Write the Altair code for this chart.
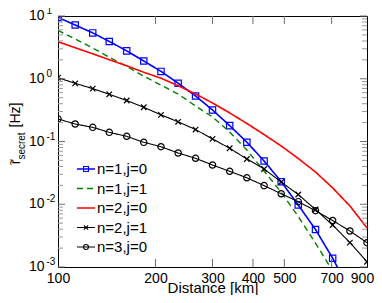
import altair as alt
import pandas as pd

# ---------------- data ----------------
distance_km = [100, 113, 128, 144, 163, 184, 208, 235, 266, 300, 339, 383,
               433, 489, 552, 624, 705, 797, 900]
series_labels = ["n=1,j=0", "n=1,j=1", "n=2,j=0", "n=2,j=1", "n=3,j=0"]
n1_j0 = [9.5, 7.19, 5.38, 3.93, 2.78, 1.92, 1.31, 0.849, 0.531, 0.318, 0.179,
         0.0975, 0.0489, 0.0229, 0.00973, 0.00396, 0.00138, 0.00042, 0.0001]
n1_j1 = [5.9, 4.31, 3.09, 2.20, 1.57, 1.10, 0.789, 0.571, 0.368, 0.246, 0.142,
         0.0732, 0.0339, 0.0155, 0.00638, 0.00241, 0.00086, 0.00026, 0.00007]
n2_j0 = [3.89, 3.12, 2.50, 2.01, 1.61, 1.27, 1.02, 0.774, 0.571, 0.411, 0.285,
         0.194, 0.129, 0.0848, 0.0536, 0.0327, 0.0182, 0.0094, 0.0042]
n2_j1 = [1.04, 0.845, 0.696, 0.565, 0.450, 0.351, 0.266, 0.206, 0.155, 0.110,
         0.078, 0.0526, 0.0365, 0.0226, 0.0143, 0.00824, 0.00467, 0.00245, 0.00121]
n3_j0 = [0.229, 0.190, 0.168, 0.140, 0.121, 0.097, 0.0826, 0.0656, 0.054, 0.0422,
         0.0335, 0.0264, 0.0198, 0.0147, 0.011, 0.00789, 0.00551, 0.00375, 0.00244]
series_values = [n1_j0, n1_j1, n2_j0, n2_j1, n3_j0]

x_tick_values = [100, 200, 300, 400, 500, 700, 900]
x_inner_ticks = [200, 300, 400, 500, 700]
y_decades = [0.001, 0.01, 0.1, 1, 10]
y_exponents = ["-3", "-2", "-1", "0", "1"]
y_minor = [m * 10.0 ** e for e in (-3, -2, -1, 0) for m in range(2, 10)]

# ---------------- styling ----------------
W, H = 309, 251
FONT = "Liberation Sans"
CROSS = "M-1,-1L1,1M-1,1L1,-1"
styles = [
    dict(color="#0000ff", dash=[1, 0], width=1.6, shape="square", msize=40),
    dict(color="#008000", dash=[6, 4], width=1.4, shape=None, msize=0),
    dict(color="#ff0000", dash=[1, 0], width=1.6, shape=None, msize=0),
    dict(color="#000000", dash=[1, 0], width=1.1, shape=CROSS, msize=30),
    dict(color="#000000", dash=[1, 0], width=1.1, shape="circle", msize=40),
]

xscale = alt.Scale(type="log", domain=[100, 900], nice=False)
yscale = alt.Scale(type="log", domain=[0.001, 10], nice=False)
xaxis = alt.Axis(values=x_tick_values, ticks=False, tickSize=0, domain=False,
                 grid=False, format="d", labelFont=FONT, labelFontSize=14,
                 labelColor="black", labelPadding=15, labelBaseline="alphabetic",
                 labelFlush=False, labelOverlap=False,
                 labelOffset={"condition": {"test": "datum.value == 900", "value": -5},
                              "value": 0},
                 title="Distance [km]", titleFont=FONT, titleFontSize=15,
                 titleFontWeight="normal", titleColor="black",
                 titleBaseline="alphabetic", titleY=25.5)
X = alt.X("d:Q", scale=xscale, axis=xaxis)
Y = alt.Y("v:Q", scale=yscale, axis=None)

one = pd.DataFrame({"k": [0]})
layers = []

# series lines and markers
for lab, vals, st in zip(series_labels, series_values, styles):
    df = pd.DataFrame({"d": distance_km, "v": vals})
    layers.append(alt.Chart(df).mark_line(
        color=st["color"], strokeDash=st["dash"], strokeWidth=st["width"], clip=True
    ).encode(x=X, y=Y))
    if st["shape"]:
        layers.append(alt.Chart(df).mark_point(
            shape=st["shape"], size=st["msize"], filled=False, color=st["color"],
            strokeWidth=1.2, opacity=1, clip=True
        ).encode(x=X, y=Y))

# inward ticks (MATLAB style)
dmaj = pd.DataFrame({"v": y_decades})
dmin = pd.DataFrame({"v": y_minor})
dx = pd.DataFrame({"d": x_inner_ticks})
tick_col = "#6e6e6e"
layers += [
    alt.Chart(dmaj).mark_rule(color=tick_col, strokeWidth=1).encode(y=Y, x=alt.value(0), x2=alt.value(7)),
    alt.Chart(dmaj).mark_rule(color=tick_col, strokeWidth=1).encode(y=Y, x=alt.value(W - 7), x2=alt.value(W)),
    alt.Chart(dmin).mark_rule(color="#9a9a9a", strokeWidth=1).encode(y=Y, x=alt.value(0), x2=alt.value(5)),
    alt.Chart(dmin).mark_rule(color="#9a9a9a", strokeWidth=1).encode(y=Y, x=alt.value(W - 5), x2=alt.value(W)),
    alt.Chart(dx).mark_rule(color=tick_col, strokeWidth=1).encode(x=X, y=alt.value(H), y2=alt.value(H - 8)),
    alt.Chart(dx).mark_rule(color=tick_col, strokeWidth=1).encode(x=X, y=alt.value(0), y2=alt.value(8)),
]

# y tick labels 10^k
dlab = pd.DataFrame({"v": y_decades, "e": y_exponents})
layers += [
    alt.Chart(dlab).mark_text(align="left", baseline="middle", font=FONT,
                              fontSize=14, color="black").encode(
        y=Y, x=alt.value(-29), text=alt.value("10")),
    alt.Chart(dlab).mark_text(align="left", baseline="alphabetic", font=FONT,
                              fontSize=10, color="black", dy=-2).encode(
        y=Y, x=alt.value(-11.5), text="e:N"),
]

# y title (rotated): r~_secret [Hz]
layers += [
    alt.Chart(one).mark_text(angle=270, align="center", baseline="alphabetic",
                             font=FONT, fontSize=14, color="black").encode(
        x=alt.value(-38), y=alt.value(99), text=alt.value("[Hz]")),
    alt.Chart(one).mark_text(angle=270, align="center", baseline="alphabetic",
                             font=FONT, fontSize=10, color="black").encode(
        x=alt.value(-33), y=alt.value(130), text=alt.value("secret")),
    alt.Chart(one).mark_text(angle=270, align="center", baseline="alphabetic",
                             font=FONT, fontSize=14, color="black").encode(
        x=alt.value(-38), y=alt.value(146), text=alt.value("r")),
    alt.Chart(one).mark_text(angle=270, align="center", baseline="alphabetic",
                             font=FONT, fontSize=11, color="black").encode(
        x=alt.value(-43), y=alt.value(146), text=alt.value("~")),
]

# legend (inside plot, lower left)
row0, step = 153, 19.5
for i, (lab, st) in enumerate(zip(series_labels, styles)):
    ly = row0 + i * step
    layers.append(alt.Chart(one).mark_rule(
        color=st["color"], strokeDash=st["dash"], strokeWidth=st["width"]
    ).encode(x=alt.value(19), x2=alt.value(37), y=alt.value(ly)))
    if st["shape"]:
        layers.append(alt.Chart(one).mark_point(
            shape=st["shape"], size=st["msize"] * 0.6, filled=False,
            color=st["color"], strokeWidth=1.1, opacity=1
        ).encode(x=alt.value(28), y=alt.value(ly)))
    layers.append(alt.Chart(one).mark_text(
        align="left", baseline="middle", font=FONT, fontSize=15, color="black"
    ).encode(x=alt.value(39), y=alt.value(ly), text=alt.value(lab)))

chart = alt.layer(*layers).properties(
    width=W, height=H,
    autosize=alt.AutoSizeParams(type="none"),
    padding={"left": 50, "top": 8, "right": 7, "bottom": 28},
    background="white",
).configure_view(stroke="black", strokeWidth=1)

chart.save("out.html", embed_options={"renderer": "svg", "actions": False})
